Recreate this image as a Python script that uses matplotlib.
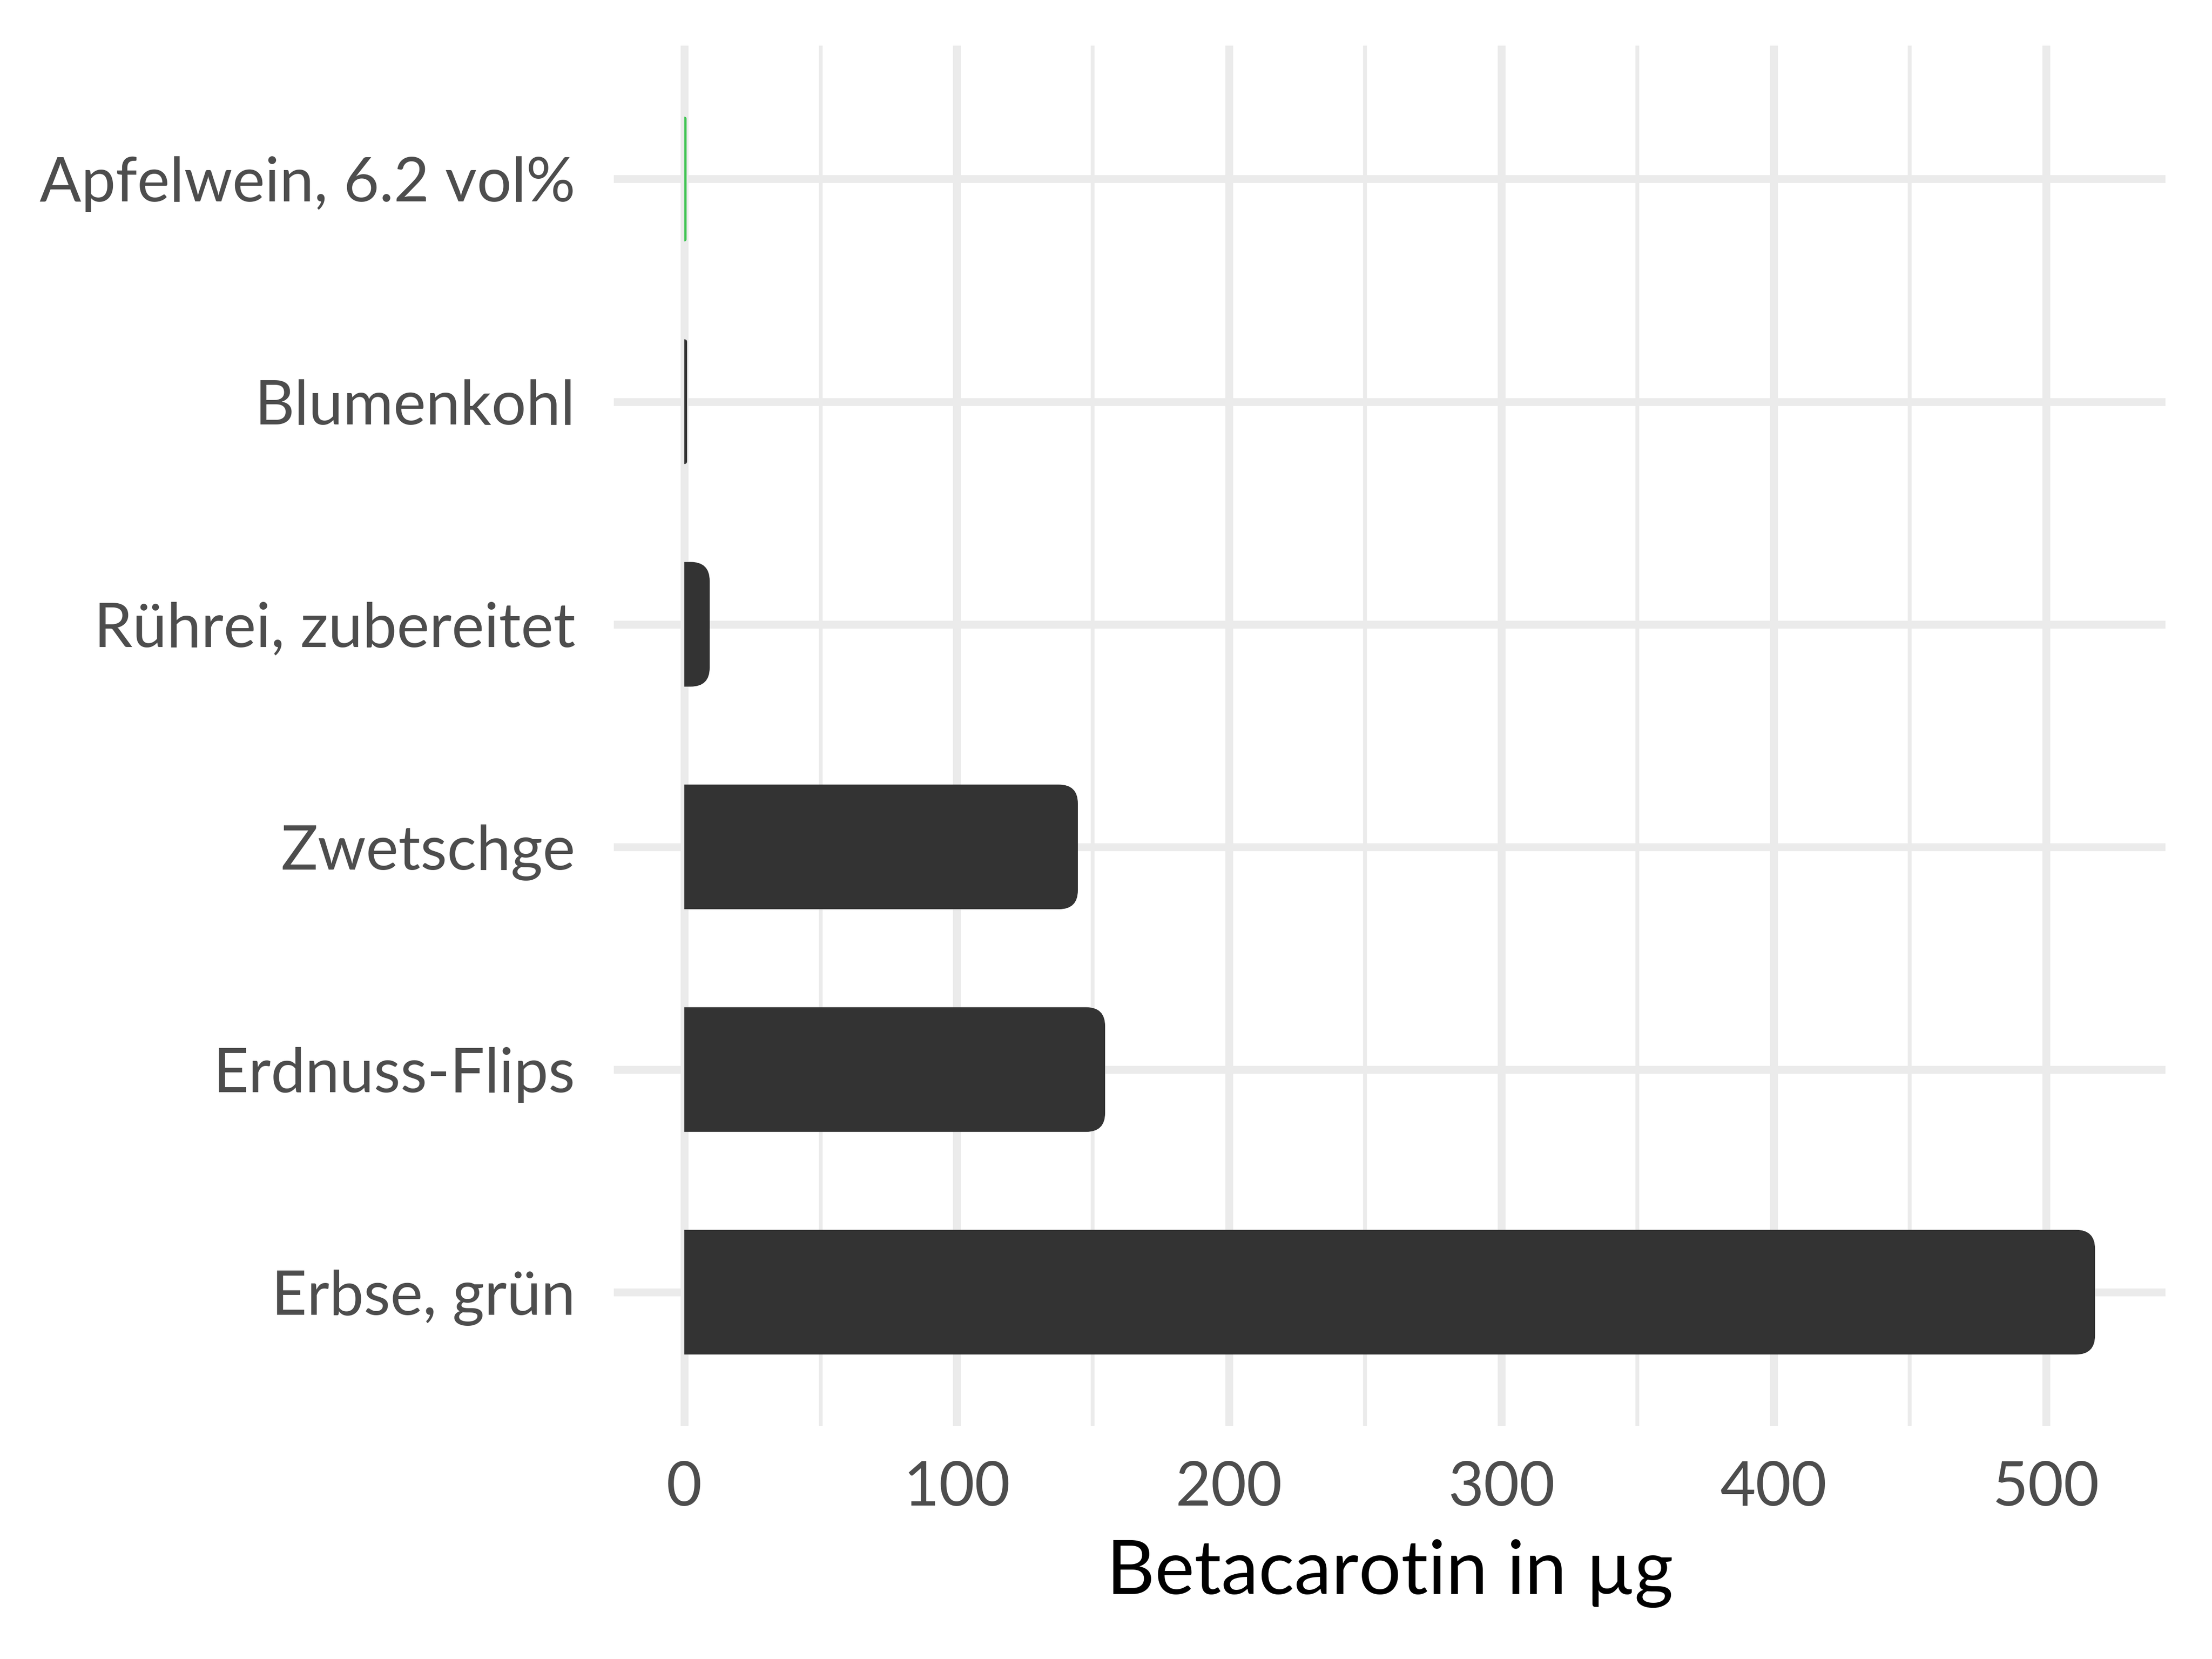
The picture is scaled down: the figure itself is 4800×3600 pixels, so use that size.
import numpy as np
import matplotlib.pyplot as plt
from matplotlib.patches import FancyBboxPatch, Rectangle

plt.rcParams['font.family'] = ['Lato', 'DejaVu Sans']

# data, bottom to top
foods = ["Erbse, grün", "Erdnuss-Flips", "Zwetschge",
         "Rührei, zubereitet", "Blumenkohl", "Apfelwein, 6.2 vol%"]
beta = [518, 154.5, 144.5, 9.3, 1.0, 0.8]
highlight = "Apfelwein, 6.2 vol%"

x_major = [0, 100, 200, 300, 400, 500]
x_minor = [50, 150, 250, 350, 450]

fig = plt.figure(figsize=(16, 12), dpi=300)
ax = fig.add_axes([0.2775, 0.1406, 0.7015, 0.832])

cols = ["#3fc452" if f == highlight else "#333333" for f in foods]
bars = ax.barh(foods, beta, height=0.56, color=cols, zorder=2)

ax.set_xlim(-25.9, 543.9)
ax.set_ylim(-0.6, 5.6)

# rounded right ends
rx, ry = 7.0, 0.085
clip = Rectangle((0, -5), 2000, 20, transform=ax.transData)
for b, c in zip(bars, cols):
    w = b.get_width()
    r = min(rx, w)
    p = FancyBboxPatch((-r, b.get_y()), w + r, b.get_height(),
                       boxstyle=f"round,pad=0,rounding_size={r}",
                       mutation_aspect=ry / rx, fc=c, ec="none", zorder=2)
    ax.add_patch(p)
    p.set_clip_path(clip)
    b.set_visible(False)

ax.set_xticks(x_major)
ax.set_xticks(x_minor, minor=True)
ax.grid(True, which="major", color="#EBEBEB", lw=4.1, zorder=0)
ax.grid(True, which="minor", axis="x", color="#EBEBEB", lw=2.0, zorder=0)
ax.set_axisbelow(True)
for s in ax.spines.values():
    s.set_visible(False)
ax.tick_params(which="both", length=0)
ax.tick_params(axis="y", pad=20, labelsize=32, labelcolor="#4D4D4D")
ax.tick_params(axis="x", pad=18, labelsize=32, labelcolor="#4D4D4D")

ax.set_xlabel("Betacarotin in µg", fontsize=39, color="black", labelpad=12)

fig.savefig("out.png", dpi=300, facecolor="white")
